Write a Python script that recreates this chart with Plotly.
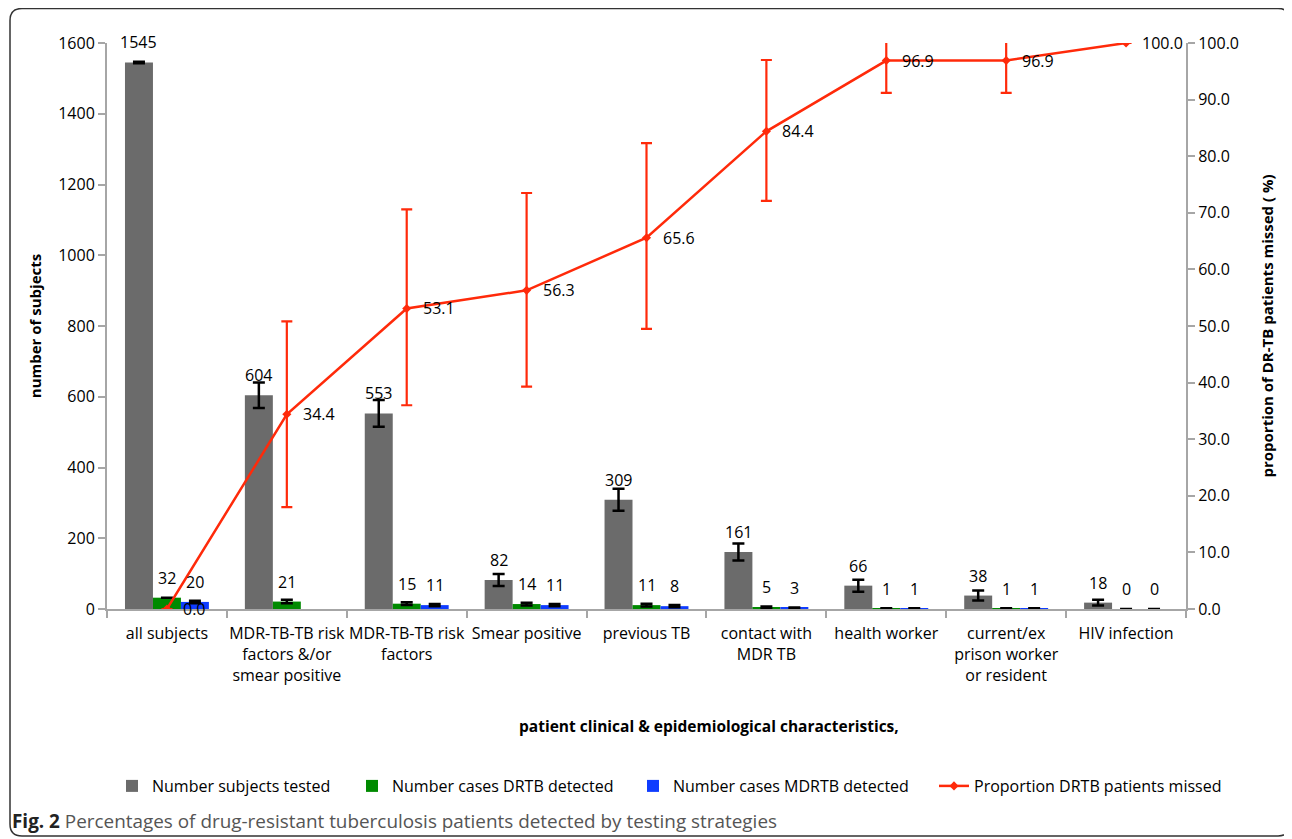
import plotly.graph_objects as go

# ---------------- data ----------------
categories = [
    "all subjects",
    "MDR-TB-TB risk<br>factors &/or<br>smear positive",
    "MDR-TB-TB risk<br>factors",
    "Smear positive",
    "previous TB",
    "contact with<br>MDR TB",
    "health worker",
    "current/ex<br>prison worker<br>or resident",
    "HIV infection",
]
tested = [1545, 604, 553, 82, 309, 161, 66, 38, 18]
tested_err = [2, 36, 38, 17, 31, 24, 17, 14, 8]
drtb = [32, 21, 15, 14, 11, 5, 1, 1, 0]
drtb_err = [0, 5, 4, 4, 4, 2, 1, 1, 0]
mdrtb = [20, None, 11, 11, 8, 3, 1, 1, 0]
mdrtb_err = [3.5, 0, 3, 3, 3, 1.5, 1, 1, 0]
missed = [0.0, 34.4, 53.1, 56.3, 65.6, 84.4, 96.9, 96.9, 100.0]
missed_err_plus = [0, 16.4, 17.5, 17.2, 16.7, 12.6, 3.3, 3.3, 0]
missed_err_minus = [0, 16.4, 17.1, 17.0, 16.1, 12.3, 5.7, 5.7, 0]
left_ticks = [0, 200, 400, 600, 800, 1000, 1200, 1400, 1600]
right_ticks = [0, 10, 20, 30, 40, 50, 60, 70, 80, 90, 100]

series_names = ["Number subjects tested", "Number cases DRTB detected",
                "Number cases MDRTB detected", "Proportion DRTB patients missed"]

# ---------------- style ----------------
OFF = 8                      # page body margin
W, H = 1292 - OFF, 839 - OFF
PL, PR, PT, PB = 107, 1186, 43, 609   # plot area in page pixels
ML, MR, MT, MB = PL - OFF, W - (PR - OFF), PT - OFF, H - (PB - OFF)
FONT = "Open Sans"
GRAY, GREEN, BLUE, RED = "#6b6b6b", "#008a00", "#0f3cff", "#ff2a0a"
AXIS = "#a6a6a6"
BARGAP = 0.30

PW, PH = PR - PL, PB - PT


def px_x(p):
    return (p - PL) / PW


def px_y(p):
    return (PB - p) / PH


fig = go.Figure()

legend_ids = ["legend", "legend2", "legend3", "legend4"]
legend_text_x = [153, 393, 674, 975]

bar_sets = [(tested, tested_err, GRAY), (drtb, drtb_err, GREEN), (mdrtb, mdrtb_err, BLUE)]
for name, (vals, errs, col), lg in zip(series_names[:3], bar_sets, legend_ids):
    fig.add_trace(go.Bar(
        x=categories, y=vals, name=name, legend=lg, showlegend=True,
        marker=dict(color=col, line=dict(width=0)),
        error_y=dict(type="data", array=errs, visible=True, color="black",
                     thickness=2.5, width=6),
    ))

fig.add_trace(go.Scatter(
    x=categories, y=missed, name=series_names[3], yaxis="y2", legend=legend_ids[3],
    showlegend=True, mode="lines+markers", line=dict(color=RED, width=2.5),
    marker=dict(symbol="diamond", size=7, color=RED),
    error_y=dict(type="data", symmetric=False, array=missed_err_plus,
                 arrayminus=missed_err_minus, visible=True, color=RED,
                 thickness=2.2, width=5.5),
))

annotations = []
# bar value labels
bar_w = (1 - BARGAP) / 3
offsets = [-bar_w, 0, bar_w]
for (vals, _, _), off in zip(bar_sets, offsets):
    for i, v in enumerate(vals):
        if v is None:
            continue
        annotations.append(dict(x=i + off, y=v, xref="x", yref="y", text=str(v),
                                showarrow=False, yshift=20,
                                font=dict(family=FONT, size=16, color="black")))
# line value labels
for i, v in enumerate(missed):
    annotations.append(dict(x=i, y=v, xref="x", yref="y2", text=f"{v:.1f}",
                            showarrow=False, xanchor="left", xshift=14,
                            font=dict(family=FONT, size=16, color="black")))
# x axis title
annotations.append(dict(x=px_x(709), y=px_y(726), xref="paper", yref="paper",
                        text="<b>patient clinical & epidemiological characteristics,</b>",
                        showarrow=False, xanchor="center", yanchor="middle",
                        font=dict(family=FONT, size=15.5, color="black")))
# caption
annotations.append(dict(x=px_x(10), y=px_y(821), xref="paper", yref="paper",
                        text="<b>Fig. 2</b><span style='color:#555555'> Percentages of drug-resistant tuberculosis patients detected by testing strategies</span>",
                        showarrow=False, xanchor="left", yanchor="middle",
                        font=dict(family=FONT, size=18.9, color="#222222")))

# rounded frame
x0, x1, y0, y1, r = px_x(10), px_x(1290), px_y(8.5), px_y(836), 12
rx, ry = r / PW, r / PH
frame = (f"M {x0},{y1 + ry} L {x0},{y0 - ry} Q {x0},{y0} {x0 + rx},{y0} "
         f"L {x1 - rx},{y0} Q {x1},{y0} {x1},{y0 - ry} L {x1},{y1 + ry} "
         f"Q {x1},{y1} {x1 - rx},{y1} L {x0 + rx},{y1} Q {x0},{y1} {x0},{y1 + ry} Z")
shapes = [dict(type="path", xref="paper", yref="paper", path=frame,
               line=dict(color="#333333", width=1.5), fillcolor="rgba(0,0,0,0)")]

axis_common = dict(showline=True, linecolor=AXIS, linewidth=2, ticks="outside",
                   ticklen=7, tickwidth=2, tickcolor=AXIS, showgrid=False,
                   zeroline=False, tickfont=dict(family=FONT, size=16, color="black"))

legend_style = dict(orientation="h", yanchor="middle", xanchor="left",
                    font=dict(family=FONT, size=16, color="black"),
                    bgcolor="rgba(0,0,0,0)", borderwidth=0)
legends = {}
for lg, tx in zip(legend_ids, legend_text_x):
    legends[lg] = dict(x=px_x(tx - 41), y=px_y(786), **legend_style)

fig.update_layout(
    width=W, height=H, autosize=False, showlegend=True,
    margin=dict(l=ML, r=MR, t=MT, b=MB, pad=0),
    paper_bgcolor="white", plot_bgcolor="white",
    barmode="group", bargap=BARGAP, bargroupgap=0,
    font=dict(family=FONT, size=16, color="black"),
    xaxis=dict(type="category", tickson="boundaries", range=[-0.5, 8.5],
               tickangle=0, ticklabelstandoff=9, **axis_common),
    yaxis=dict(range=[0, 1600], tickvals=left_ticks,
               title=dict(text="<b>number of subjects</b>", standoff=13,
                          font=dict(family=FONT, size=15, color="black")),
               **axis_common),
    yaxis2=dict(range=[0, 100], tickvals=right_ticks, tickformat=".1f",
                overlaying="y", side="right",
                title=dict(text="<b>proportion of DR-TB patients missed ( %)</b>", standoff=25,
                           font=dict(family=FONT, size=15, color="black")),
                **axis_common),
    annotations=annotations,
    shapes=shapes,
    **legends,
)

fig.write_html("out.html")
